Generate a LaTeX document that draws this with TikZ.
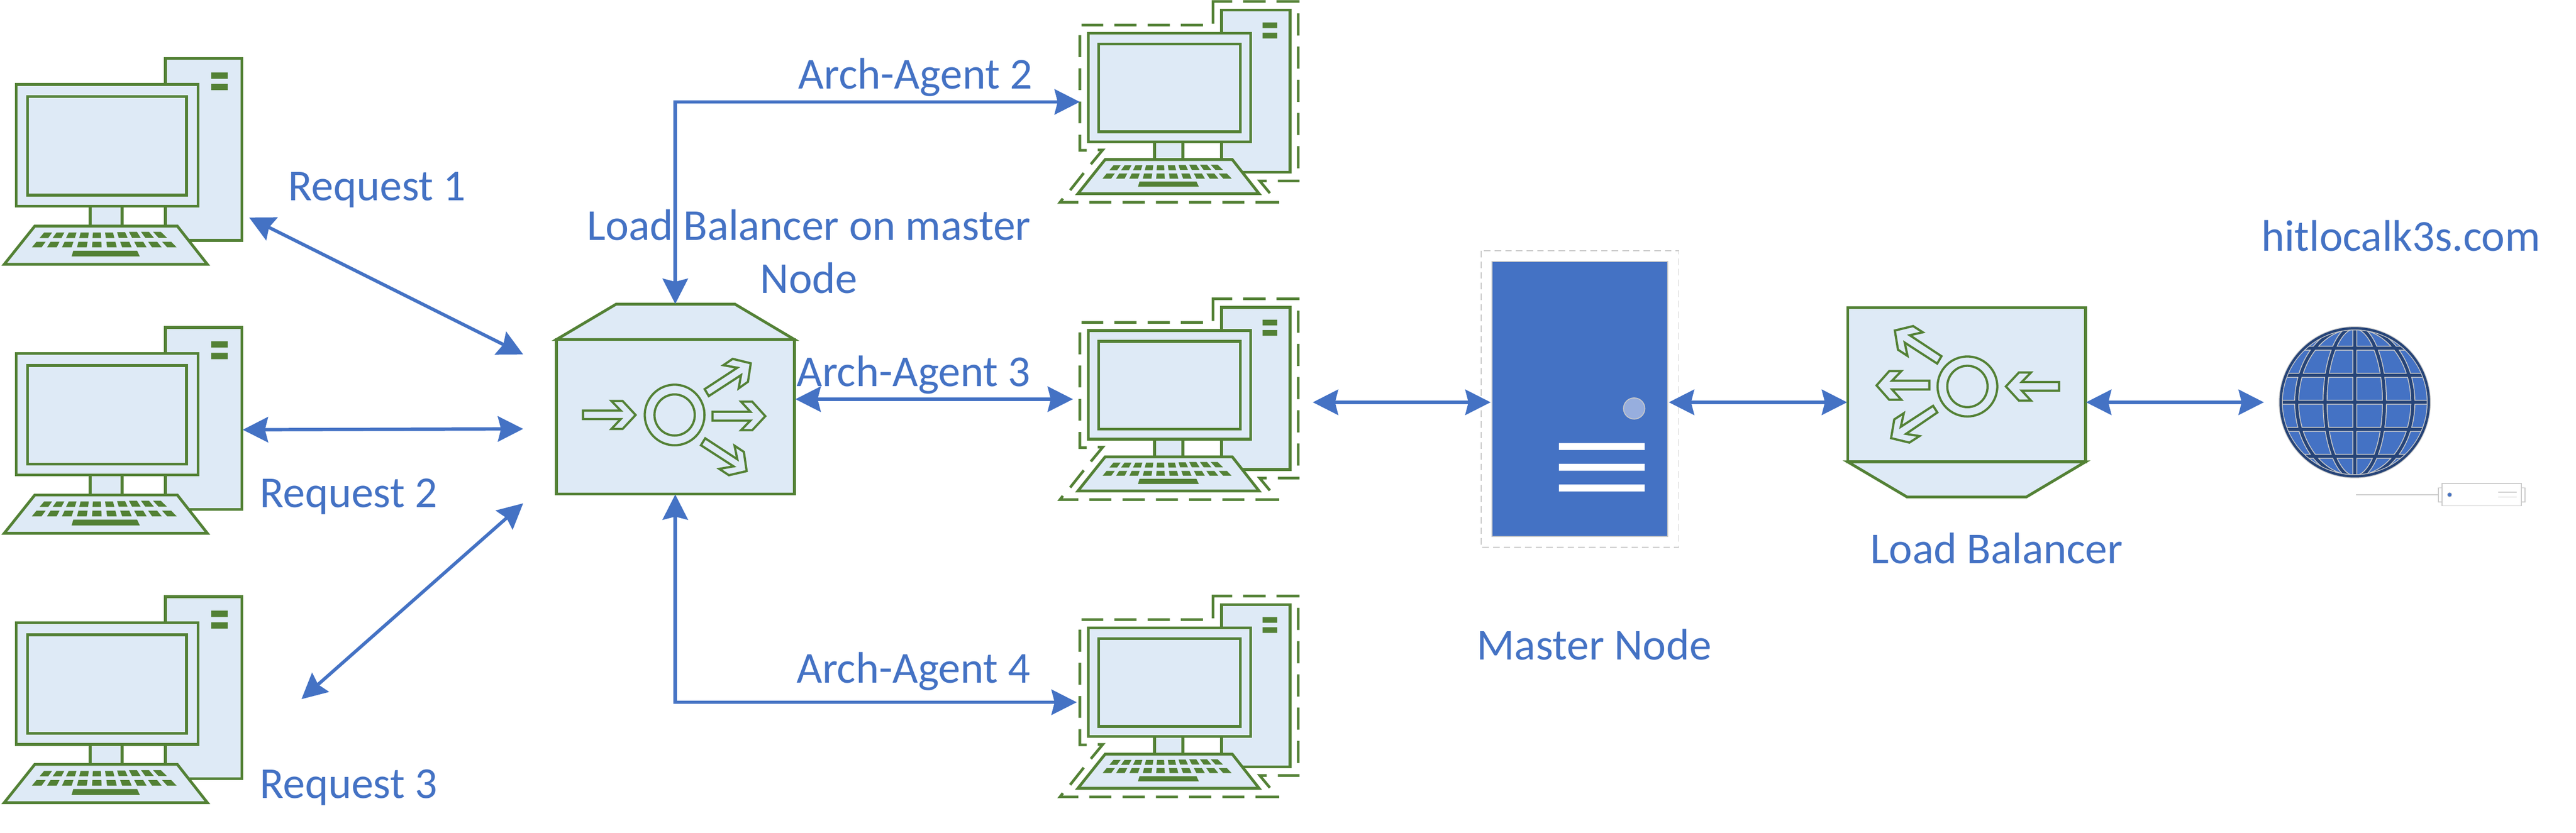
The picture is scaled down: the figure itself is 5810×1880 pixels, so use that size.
\documentclass[tikz,border=0pt]{standalone}
\usepackage{fontspec}
\setmainfont{Carlito}
\usetikzlibrary{arrows.meta}
\definecolor{gline}{HTML}{538135}
\definecolor{gfill}{HTML}{DEEAF6}
\definecolor{bluemain}{HTML}{4472C4}
\definecolor{bluedark}{HTML}{264478}
\definecolor{bluelight}{HTML}{97AEDE}
\definecolor{greyline}{HTML}{C9C9C9}
\tikzset{
  part/.style={draw=gline,fill=gfill,line width=.63mm,line join=miter},
  keycap/.style={fill=gline},
  dashpiece/.style={draw=gline,line width=.6mm,line cap=butt,line join=miter},
  lbglyph/.style={draw=gline,line width=.5mm,line join=miter},
  conn/.style={draw=bluemain,line width=.75mm,{Stealth[length=5.7mm,width=5.7mm,inset=.7mm]}-{Stealth[length=5.7mm,width=5.7mm,inset=.7mm]}},
  lbl/.style={text=bluemain,inner sep=0pt,outer sep=0pt,anchor=base west,font=\fontsize{28.35}{34.14}\selectfont},
  zoomA/.style={xscale=.3827,yscale=.3333},
  zoomB/.style={xscale=.4209,yscale=.3333},
  grey2/.style={draw=greyline,line width=.22mm}
}
\newcommand{\pcbody}{%
  \begin{scope}[zoomA,shift={(0,300)}]
    \path[part] (974,96) rectangle (1426,1328);
    \path[part] (95,272) rectangle (1167,1096);
    \path[part] (163,354) rectangle (1099,1021);
    \path[part] (531,1096) rectangle (719,1232);
    \path[part] (205,1231) -- (1045,1231) -- (1222,1490) -- (25,1490) -- cycle;
    \fill[keycap] (1245,190) rectangle (1342,233) (1245,268) rectangle (1342,311);
    \fill[keycap] (233,1312)--(260,1275)--(307,1275)--(284,1312)--cycle
      (310,1312)--(333,1275)--(379,1275)--(362,1312)--cycle
      (389,1312)--(405,1275)--(451,1275)--(441,1312)--cycle
      (467,1312)--(475,1275)--(523,1275)--(519,1312)--cycle
      (545,1312)--(548,1275)--(594,1275)--(596,1312)--cycle
      (624,1312)--(619,1275)--(666,1275)--(674,1312)--cycle
      (700,1310)--(690,1272)--(737,1272)--(752,1310)--cycle
      (778,1310)--(760,1270)--(807,1270)--(829,1310)--cycle
      (856,1310)--(831,1270)--(878,1270)--(907,1310)--cycle
      (934,1310)--(902,1270)--(948,1270)--(984,1310)--cycle
      (188,1375)--(215,1337)--(269,1337)--(245,1375)--cycle
      (277,1375)--(298,1337)--(351,1337)--(334,1375)--cycle
      (365,1375)--(381,1337)--(433,1337)--(422,1375)--cycle
      (454,1375)--(462,1337)--(516,1337)--(511,1375)--cycle
      (542,1375)--(545,1337)--(597,1337)--(599,1375)--cycle
      (631,1375)--(627,1337)--(680,1337)--(688,1375)--cycle
      (720,1375)--(708,1337)--(762,1337)--(776,1375)--cycle
      (808,1375)--(791,1337)--(844,1337)--(864,1375)--cycle
      (896,1375)--(873,1337)--(926,1337)--(953,1375)--cycle
      (985,1375)--(955,1337)--(1009,1337)--(1041,1375)--cycle
      (422,1437)--(432,1398)--(808,1398)--(824,1437)--cycle;
  \end{scope}}
\newcommand{\pcdashes}{%
  \path[dashpiece] (930,160)--(930,10)--(1043,10)
    (1108,10)--(1240,10) (1304,10)--(1440,10)
    (1432,90)--(1432,240) (1432,315)--(1432,465) (1432,540)--(1432,690)
    (1432,765)--(1432,915) (1432,990)--(1432,1140)
    (1440,1225)--(1312,1225) (1246,1225)--(1205,1225)--(1265,1308)
    (1320,1370)--(1180,1370) (1115,1370)--(985,1370) (920,1370)--(789,1370)
    (723,1370)--(593,1370) (527,1370)--(397,1370) (331,1370)--(201,1370)
    (136,1370)--(28,1370)--(45,1345)
    (88,1288)--(168,1172) (210,1112)--(280,1015)--(250,1015)
    (186,1018)--(145,1018)--(145,912) (145,835)--(145,688) (145,610)--(145,462)
    (145,387)--(145,238)
    (155,170)--(283,170) (349,170)--(479,170) (545,170)--(675,170) (740,170)--(870,170);}
\newcommand{\agentpc}[1]{%
  \begin{scope}[shift={(2422.6,#1-95)},scale=.892]\pcbody\end{scope}
  \begin{scope}[shift={(2380,#1)},zoomA]\pcdashes\end{scope}}
\begin{document}
\begin{tikzpicture}[x=.01cm,y=-.01cm]
\useasboundingbox (0,0) rectangle (5810,1880);
% client computers
\begin{scope}\pcbody\end{scope}
\begin{scope}[shift={(0,607)}]\pcbody\end{scope}
\begin{scope}[shift={(0,1215)}]\pcbody\end{scope}
% agent computers
\agentpc{0}
\agentpc{671}
\agentpc{1342}
% load balancer on master node
\begin{scope}[shift={(1200,640)},zoomB]
  \path[part] (131,379)--(450,140)--(1088,140)--(1406,379)--cycle;
  \path[part] (131,379) rectangle (1406,1424);
  \path[lbglyph] (764,890) ellipse [x radius=160,y radius=205] (764,890) ellipse [x radius=108,y radius=139];
  \path[lbglyph] (273,860)--(475,860)--(425,795)--(485,795)--(555,890)--(485,985)--(425,985)--(475,918)--(273,918)--cycle;
  \path[lbglyph] (967,868)--(1170,868)--(1120,800)--(1180,800)--(1250,898)--(1180,993)--(1120,993)--(1170,928)--(967,928)--cycle;
  \path[lbglyph] (925,715)--(1100,570)--(1025,553)--(1075,510)--(1172,540)--(1157,665)--(1107,710)--(1120,620)--(947,762)--cycle;
  \path[lbglyph] (928,1048)--(1100,1190)--(1085,1098)--(1135,1140)--(1150,1270)--(1055,1298)--(1003,1255)--(1080,1238)--(905,1095)--cycle;
\end{scope}
% master node
\begin{scope}[shift={(3300,540)},xscale=.3444,yscale=.4591]
  \draw[grey2,dash pattern=on 1.5mm off .9mm] (117,57) rectangle (1412,1515);
  \path[fill=bluemain,draw=greyline,line width=.2mm] (190,110) rectangle (1340,1462);
  \path[fill=bluelight,draw=greyline,line width=.2mm] (1120,832) ellipse [x radius=70,y radius=52];
  \fill[white] (627,1002) rectangle (1189,1036) (627,1104) rectangle (1189,1138) (627,1206) rectangle (1189,1240);
\end{scope}
% public load balancer
\begin{scope}[shift={(4120,660)},zoomB]
  \path[part] (112,1147)--(430,1385)--(1070,1385)--(1387,1147)--cycle;
  \path[part] (112,103) rectangle (1387,1147);
  \path[lbglyph] (754,637) ellipse [x radius=160,y radius=203] (754,637) ellipse [x radius=108,y radius=140];
  \path[lbglyph] (1245,607)--(1045,607)--(1095,542)--(1030,542)--(960,637)--(1030,733)--(1095,733)--(1045,665)--(1245,665)--cycle;
  \path[lbglyph] (550,598)--(350,598)--(400,533)--(335,533)--(267,630)--(335,727)--(400,727)--(350,657)--(550,657)--cycle;
  \path[lbglyph] (615,432)--(445,290)--(515,270)--(463,228)--(365,258)--(382,388)--(433,430)--(418,340)--(592,482)--cycle;
  \path[lbglyph] (593,813)--(425,958)--(497,973)--(443,1017)--(345,987)--(362,860)--(413,818)--(397,910)--(570,768)--cycle;
\end{scope}
% globe
\begin{scope}[shift={(5311,908)}]
  \fill[bluemain] (0,0) circle [radius=168];
  \begin{scope}
    \clip (0,0) circle [radius=168];
    \foreach \wid/\col in {1.1mm/greyline,.7mm/bluedark}{
      \draw[\col,line width=\wid] (0,-170)--(0,170)
        (-170,-122)--(170,-122) (-170,-61)--(170,-61) (-170,0)--(170,0) (-170,61)--(170,61) (-170,122)--(170,122)
        (0,0) ellipse [x radius=67,y radius=170]
        (0,0) ellipse [x radius=131,y radius=170];
    }
  \end{scope}
  \draw[greyline,line width=.9mm] (0,0) circle [radius=167];
  \draw[bluedark,line width=.55mm] (0,0) circle [radius=167];
\end{scope}
% device
\begin{scope}[shift={(5080,700)},zoomB]
  \draw[grey2] (555,1250)--(997,1250);
  \draw[grey2] (997,1203) rectangle (1017,1298);
  \draw[grey2] (1442,1203) rectangle (1462,1298);
  \draw[grey2] (1017,1175) rectangle (1442,1325);
  \path[fill=bluemain,draw=greyline,line width=.1mm] (1057,1250) ellipse [x radius=12,y radius=15];
  \draw[grey2] (1317,1234)--(1417,1234) (1317,1266)--(1417,1266);
\end{scope}
% ports
\coordinate (pc1port) at (562,491);
\coordinate (pc2port) at (547.5,970);
\coordinate (pc3port) at (680,1578);
\coordinate (lbin1) at (1180,800);
\coordinate (lbin2) at (1180,968);
\coordinate (lbin3) at (1180,1136);
\coordinate (lbtop) at (1523,686);
\coordinate (lbbot) at (1523,1116);
\coordinate (lbright) at (1794,901);
\coordinate (ag2port) at (2435.5,230);
\coordinate (ag3port) at (2420,901);
\coordinate (ag4port) at (2428.6,1585);
\coordinate (ag3out) at (2961,908);
\coordinate (mleft) at (3362,908);
\coordinate (mright) at (3764,908);
\coordinate (lb2left) at (4166,908);
\coordinate (lb2right) at (4705,908);
\coordinate (globeport) at (5106,908);
% connectors
\draw[conn] (pc1port) -- (lbin1);
\draw[conn] (pc2port) -- (lbin2);
\draw[conn] (pc3port) -- (lbin3);
\draw[conn] (lbtop) |- (ag2port);
\draw[conn] (lbbot) |- (ag4port);
\draw[conn] (lbright) -- (ag3port);
\draw[conn] (ag3out) -- (mleft);
\draw[conn] (mright) -- (lb2left);
\draw[conn] (lb2right) -- (globeport);
% labels
\node[lbl] (req1) at (650,453) {Request 1};
\node[lbl] (req2) at (586,1145) {Request 2};
\node[lbl] (req3) at (586,1802) {Request 3};
\node[lbl] (ag2) at (1801,200) {Arch-Agent 2};
\node[lbl] (ag3) at (1797,872) {Arch-Agent 3};
\node[lbl] (ag4) at (1797,1541) {Arch-Agent 4};
\node[lbl,anchor=base,align=center] (lbm) at (1824.5,662) {Load Balancer on master\\Node};
\node[lbl] (mn) at (3331,1489) {Master Node};
\node[lbl] (lbn) at (4219,1272) {Load Balancer};
\node[lbl] (site) at (5100,567) {hitlocalk3s.com};
\end{tikzpicture}
\end{document}
